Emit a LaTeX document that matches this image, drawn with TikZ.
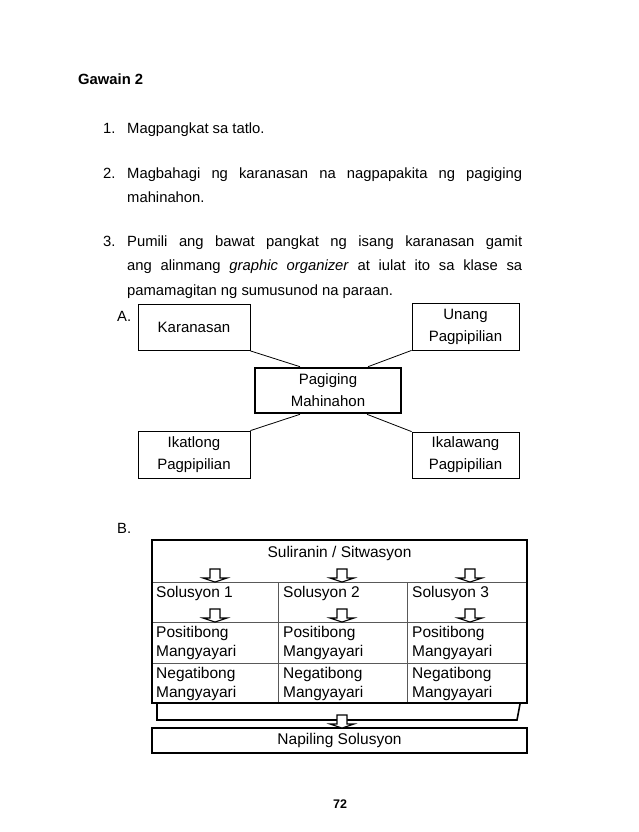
\documentclass[tikz,border=0pt]{standalone}
\usepackage{fontspec}
\setmainfont{Liberation Sans}
\begin{document}
\begin{tikzpicture}[x=1pt,y=-1pt,
  body/.style={anchor=base west, inner sep=0pt, font=\fontsize{14.8}{17}\selectfont},
  abox/.style={draw, line width=0.8pt, align=center, inner sep=0pt, font=\fontsize{15}{22}\selectfont},
  cbox/.style={abox, line width=2.6pt},
  link/.style={line width=0.8pt},
  cell/.style={anchor=base west, inner sep=0pt, font=\fontsize{15.5}{18}\selectfont},
  outer/.style={line width=2pt},
  inner/.style={line width=0.9pt, black!65},
  blockarrow/.pic={\draw[line width=1.1pt, fill=white, line join=miter]
     (-5,-13) -- (-5,-4) -- (-12,-4) -- (0,0) -- (12,-4) -- (5,-4) -- (5,-13) -- cycle;}
]
\useasboundingbox (0,0) rectangle (639,832);

% ---- text ----
\node[body] (g) at (78,85) {\bfseries Gawain 2};
\node[body] (n1) at (103,134) {1.};
\node[body] (t1) at (127,134) {Magpangkat sa tatlo.};
\node[body] (n2) at (103,178) {2.};
\node[body] (t2a) at (127,178) {\makebox[395pt][s]{Magbahagi ng karanasan na nagpapakita ng pagiging}};
\node[body] (t2b) at (127,202) {mahinahon.};
\node[body] (n3) at (103,246) {3.};
\node[body] (t3a) at (127,246) {\makebox[395pt][s]{Pumili ang bawat pangkat ng isang karanasan gamit}};
\node[body] (t3b) at (127,270.5) {\makebox[395pt][s]{ang alinmang \textit{graphic organizer} at iulat ito sa klase sa}};
\node[body] (t3c) at (127,295) {pamamagitan ng sumusunod na paraan.};

% ---- diagram A ----
\node[body] (la) at (117,321) {A.};
\node[abox, minimum width=112pt, minimum height=46pt] (kar) at (194,327.5) {Karanasan};
\node[abox, minimum width=107pt, minimum height=47pt] (una) at (465.5,326.5) {Unang\\Pagpipilian};
\node[cbox, minimum width=146pt, minimum height=45pt] (cen) at (328,390.5) {Pagiging\\Mahinahon};
\node[abox, minimum width=112pt, minimum height=47pt] (ika) at (194,454.5) {Ikatlong\\Pagpipilian};
\node[abox, minimum width=107pt, minimum height=46pt] (ikl) at (465.5,455) {Ikalawang\\Pagpipilian};

\draw[link] (kar.south east) -- ([xshift=-28pt]cen.north);
\draw[link] (una.south west) -- ([xshift=40pt]cen.north);
\draw[link] (ika.north east) -- ([xshift=-28pt]cen.south);
\draw[link] (ikl.north west) -- ([xshift=39pt]cen.south);

% ---- diagram B ----
\node[body] (lb) at (117,533) {B.};

\draw[inner] (278,582) -- (278,703);
\draw[inner] (407,582) -- (407,703);
\draw[inner] (152,582) -- (527,582);
\draw[inner] (152,622) -- (527,622);
\draw[inner] (152,663) -- (527,663);
\draw[outer] (152,540) rectangle (527,703);

\node[cell, anchor=base] (sul) at (339.5,557) {Suliranin / Sitwasyon};

\node[cell] (s1) at (156,597) {Solusyon 1};
\node[cell] (s2) at (283,597) {Solusyon 2};
\node[cell] (s3) at (412,597) {Solusyon 3};

\node[cell] (p1a) at (156,637) {Positibong};
\node[cell] (p1b) at (156,656) {Mangyayari};
\node[cell] (p2a) at (283,637) {Positibong};
\node[cell] (p2b) at (283,656) {Mangyayari};
\node[cell] (p3a) at (412,637) {Positibong};
\node[cell] (p3b) at (412,656) {Mangyayari};

\node[cell] (q1a) at (156,678) {Negatibong};
\node[cell] (q1b) at (156,697) {Mangyayari};
\node[cell] (q2a) at (283,678) {Negatibong};
\node[cell] (q2b) at (283,697) {Mangyayari};
\node[cell] (q3a) at (412,678) {Negatibong};
\node[cell] (q3b) at (412,697) {Mangyayari};

\foreach \ax in {215,342,470}{
  \pic at (\ax,582) {blockarrow};
  \pic at (\ax,622) {blockarrow};
}

% bracket and final box
\draw[line width=1.6pt] (157,704) -- (157,720) -- (517,720) -- (520,704);
\node[draw, line width=2pt, minimum width=375pt, minimum height=25pt, inner sep=0pt,
      font=\fontsize{15.5}{18}\selectfont] (nap) at (339.5,740.5) {Napiling Solusyon};
\pic at (342,728) {blockarrow};

\node[anchor=base, inner sep=0pt, font=\fontsize{12.5}{14}\selectfont\bfseries] (pg) at (340,808) {72};
\end{tikzpicture}
\end{document}
